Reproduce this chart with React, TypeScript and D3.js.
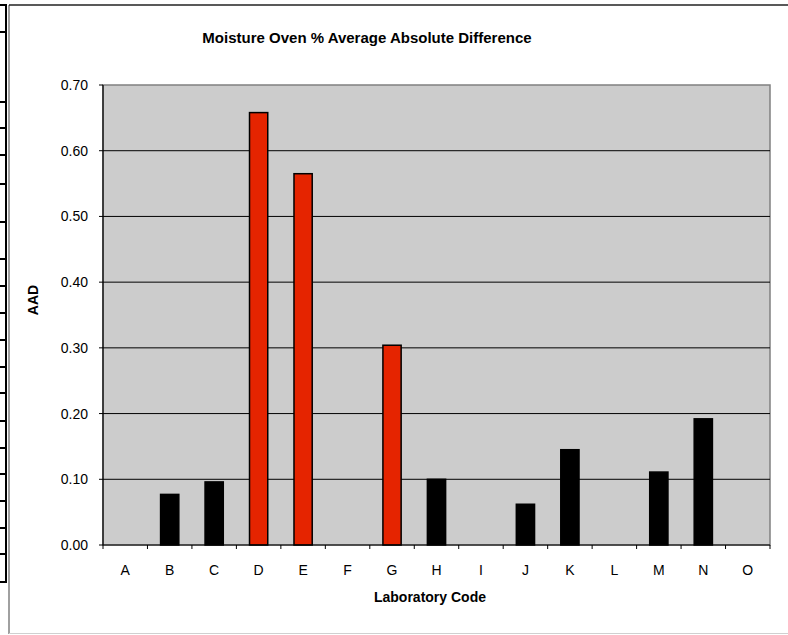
import React from "react";
import * as d3 from "d3";

const categories = ["A","B","C","D","E","F","G","H","I","J","K","L","M","N","O"];
const values: (number | null)[] = [null, 0.077, 0.096, 0.658, 0.565, null, 0.304, 0.100, null, 0.062, 0.145, null, 0.111, 0.192, null];
const flagged = ["D","E","G"];
const yTicks = [0, 0.1, 0.2, 0.3, 0.4, 0.5, 0.6, 0.7];
const rowLines = [5, 32, 102, 128, 155, 184, 222, 259, 286, 313, 340, 367, 393, 421, 448, 474, 501, 528, 554, 582];

const W = 788, H = 635;
const plot = { left: 103, right: 770, top: 85, bottom: 545 };
const FONT = "'Liberation Sans', Arial, sans-serif";

export default function App() {
  const y = d3.scaleLinear().domain([0, 0.7]).range([plot.bottom, plot.top]);
  const p = 0.59;
  const x = d3.scaleBand<string>().domain(categories).range([plot.left, plot.right]).paddingInner(p).paddingOuter(p / 2);
  const step = x.step();
  const bw = x.bandwidth();
  const boundaries = categories.map((c) => (x(c) as number) + bw / 2 - step / 2).concat([plot.right]);

  return (
    <svg width={W} height={H} style={{ position: "absolute", left: 0, top: 0, background: "#fff" }}>
      {/* spreadsheet row border fragment */}
      <line x1={6} x2={6} y1={rowLines[0]} y2={rowLines[rowLines.length - 1]} stroke="#000" strokeWidth={2} />
      {rowLines.map((r, i) => (
        <line key={i} x1={0} x2={7} y1={r} y2={r} stroke="#000" strokeWidth={2} />
      ))}
      {/* chart area border */}
      <line x1={9} x2={9} y1={5} y2={634} stroke="#808080" strokeWidth={1.5} />
      <line x1={9} x2={W} y1={5} y2={5} stroke="#222" strokeWidth={1.5} />
      <line x1={9} x2={W} y1={633.5} y2={633.5} stroke="#d0d0d0" strokeWidth={1} />

      {/* plot area */}
      <rect x={plot.left} y={plot.top} width={plot.right - plot.left} height={plot.bottom - plot.top} fill="#cccccc" stroke="#808080" strokeWidth={1.5} />
      {yTicks.filter((t) => t > 0 && t < 0.7).map((t) => (
        <line key={t} x1={plot.left} x2={plot.right} y1={y(t)} y2={y(t)} stroke="#000" strokeWidth={1} />
      ))}

      {/* bars */}
      {categories.map((c, i) => {
        const v = values[i];
        if (v == null) return null;
        return (
          <rect key={c} x={x(c)} y={y(v)} width={bw} height={y(0) - y(v)}
            fill={flagged.includes(c) ? "#e52400" : "#000"} stroke="#000" strokeWidth={1.5} />
        );
      })}

      {/* axes */}
      <line x1={plot.left} x2={plot.left} y1={plot.top} y2={plot.bottom} stroke="#000" strokeWidth={1.2} />
      <line x1={plot.left} x2={plot.right} y1={plot.bottom} y2={plot.bottom} stroke="#000" strokeWidth={1.2} />
      {yTicks.map((t) => (
        <g key={t}>
          <line x1={plot.left - 4} x2={plot.left} y1={y(t)} y2={y(t)} stroke="#000" strokeWidth={1} />
          <text x={88} y={y(t)} dy="0.36em" textAnchor="end" fontFamily={FONT} fontSize={14} fill="#000">{t.toFixed(2)}</text>
        </g>
      ))}
      {boundaries.map((b, i) => (
        <line key={i} x1={b} x2={b} y1={plot.bottom} y2={plot.bottom + 4} stroke="#000" strokeWidth={1} />
      ))}
      {categories.map((c) => (
        <text key={c} x={(x(c) as number) + bw / 2} y={575} textAnchor="middle" fontFamily={FONT} fontSize={14} fill="#000">{c}</text>
      ))}

      {/* titles */}
      <text x={367} y={43} textAnchor="middle" fontFamily={FONT} fontSize={15} fontWeight="bold" fill="#000">Moisture Oven % Average Absolute Difference</text>
      <text x={430} y={602} textAnchor="middle" fontFamily={FONT} fontSize={14} fontWeight="bold" fill="#000">Laboratory Code</text>
      <text transform={`translate(38,300) rotate(-90)`} textAnchor="middle" fontFamily={FONT} fontSize={14} fontWeight="bold" fill="#000">AAD</text>
    </svg>
  );
}
